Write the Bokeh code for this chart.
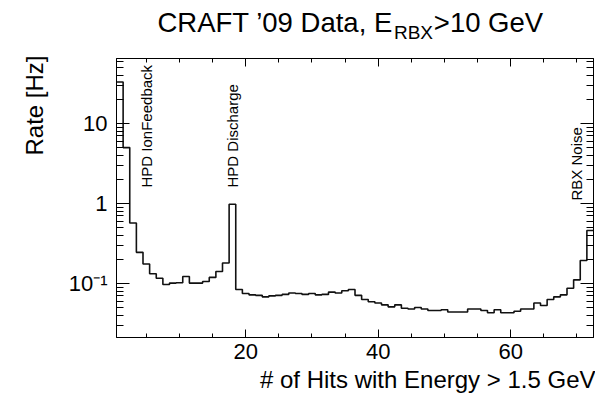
from math import pi

from bokeh.core.properties import value
from bokeh.embed import file_html
from bokeh.layouts import column
from bokeh.models import FixedTicker, Label, LinearAxis, LogAxis, Range1d, Title
from bokeh.plotting import figure
from bokeh.resources import INLINE

# Hit multiplicity (bin centres) and measured rate per bin [Hz]
n_hits = list(range(1, 73))
rate_hz = [
    33.0, 5.0, 0.57, 0.245, 0.175, 0.132, 0.116, 0.097, 0.101, 0.102,
    0.122, 0.101, 0.101, 0.106, 0.119, 0.141, 0.180, 0.98, 0.084, 0.075,
    0.072, 0.071, 0.068, 0.070, 0.071, 0.073, 0.076, 0.075, 0.073, 0.075,
    0.072, 0.073, 0.078, 0.076, 0.081, 0.084, 0.071, 0.063, 0.059, 0.057,
    0.054, 0.051, 0.054, 0.049, 0.048, 0.050, 0.048, 0.046, 0.046, 0.047,
    0.044, 0.044, 0.044, 0.048, 0.048, 0.046, 0.043, 0.047, 0.043, 0.043,
    0.045, 0.048, 0.048, 0.057, 0.053, 0.063, 0.068, 0.072, 0.087, 0.111,
    0.194, 0.46,
]

x_major = [20, 40, 60]
x_minor = [5, 10, 15, 25, 30, 35, 45, 50, 55, 65, 70]
x_tick_labels = {20: "20", 40: "40", 60: "60"}
y_major = [0.1, 1, 10]
y_minor = [0.03, 0.04, 0.05, 0.06, 0.07, 0.08, 0.09,
           0.2, 0.3, 0.4, 0.5, 0.6, 0.7, 0.8, 0.9,
           2, 3, 4, 5, 6, 7, 8, 9, 20, 30, 40, 50, 60]
y_tick_labels = {0.1: "10\u207b\u00b9", 1: "1", 10: "10"}

# annotated features: (label, bin position, rate at the text's lower end)
features = [("HPD IonFeedback", 5.0, 1.585),
            ("HPD Discharge", 18.0, 1.585),
            ("RBX Noise", 69.9, 1.09)]

FONT = "Liberation Sans"
X0, X1 = 0.5, 72.5
Y0, Y1 = 0.0211, 65.0
W = 595
HEAD_H = 56
LEFT, RIGHT = 115, 2

# ---- heading strip: title with the E_RBX subscript ----
# its frame spans the same columns as the histogram frame; x is in pixels
head = figure(width=W, height=HEAD_H, x_range=Range1d(LEFT, W - RIGHT),
              y_range=Range1d(HEAD_H, 0), x_axis_location=None,
              y_axis_location=None, output_backend="svg",
              toolbar_location=None, min_border_left=LEFT,
              min_border_right=RIGHT, min_border_top=0, min_border_bottom=0)
head.title.visible = False
head.grid.visible = False
head.outline_line_color = None
title_parts = [("CRAFT \u201909 Data, E", 156, 22, "27.5px"),
               ("RBX", 393, 32, "19px"),
               (">10 GeV", 433, 22, "27.5px")]
for txt, tx, ty, size in title_parts:
    head.text(x=[tx], y=[ty], text=[txt], text_font=value(FONT),
              text_font_size=size, text_color="black",
              text_align="left", text_baseline="alphabetic")

# ---- main histogram panel ----
p = figure(width=W, height=395 - HEAD_H, y_axis_type="log",
           x_range=Range1d(X0, X1), y_range=Range1d(Y0, Y1),
           output_backend="svg", toolbar_location=None,
           min_border_left=LEFT, min_border_right=RIGHT,
           min_border_top=2, min_border_bottom=58,
           background_fill_color="white", border_fill_color="white")
p.title.visible = False
p.grid.visible = False
p.outline_line_color = "black"
p.outline_line_width = 1

xa = p.xaxis[0]
xa.ticker = FixedTicker(ticks=x_major, minor_ticks=x_minor)
xa.major_label_overrides = x_tick_labels
xa.major_tick_in, xa.major_tick_out = 8, 0
xa.minor_tick_in, xa.minor_tick_out = 4, 0
xa.major_label_standoff = 6
xa.major_label_text_font = FONT
xa.major_label_text_font_size = "22px"
xa.major_label_text_color = "black"
xa.axis_line_color = "black"

ya = p.yaxis[0]
ya.ticker = FixedTicker(ticks=y_major, minor_ticks=y_minor)
ya.major_label_overrides = y_tick_labels
ya.major_tick_in, ya.major_tick_out = 13, 0
ya.minor_tick_in, ya.minor_tick_out = 7, 0
ya.major_label_standoff = 9
ya.major_label_text_font = FONT
ya.major_label_text_font_size = "22px"
ya.major_label_text_color = "black"
ya.axis_line_color = "black"

# mirrored tick marks on top and right
top = LinearAxis(ticker=FixedTicker(ticks=x_major, minor_ticks=x_minor),
                 major_tick_in=8, major_tick_out=0,
                 minor_tick_in=4, minor_tick_out=0,
                 major_label_text_color=None, major_label_text_font_size="1px",
                 major_label_standoff=0, axis_line_color="black")
p.add_layout(top, "above")
right = LogAxis(ticker=FixedTicker(ticks=y_major, minor_ticks=y_minor),
                major_tick_in=13, major_tick_out=0,
                minor_tick_in=7, minor_tick_out=0,
                major_label_text_color=None, major_label_text_font_size="1px",
                major_label_standoff=0, axis_line_color="black")
p.add_layout(right, "right")

# axis titles, aligned to the frame ends
p.add_layout(Title(text="# of Hits with Energy > 1.5 GeV", align="right",
                   offset=-2, standoff=5, text_font=FONT,
                   text_font_size="24px", text_font_style="normal",
                   text_color="black"), "below")
p.add_layout(Title(text="Rate [Hz]", align="right", offset=-3, standoff=36,
                   text_font=FONT, text_font_size="24px",
                   text_font_style="normal", text_color="black"), "left")

# histogram outline
edges = [n - 0.5 for n in n_hits] + [n_hits[-1] + 0.5]
p.step(x=edges, y=rate_hz + [rate_hz[-1]], mode="after",
       line_color="#111111", line_width=1.6)

# feature annotations
for text, xpos, ypos in features:
    p.add_layout(Label(x=xpos, y=ypos, text=text, text_font=FONT,
                       text_font_size="15px", text_color="black",
                       angle=pi / 2, text_align="left",
                       text_baseline="middle"))

layout = column(head, p, spacing=0)
open("out.html", "w").write(file_html(layout, INLINE))
